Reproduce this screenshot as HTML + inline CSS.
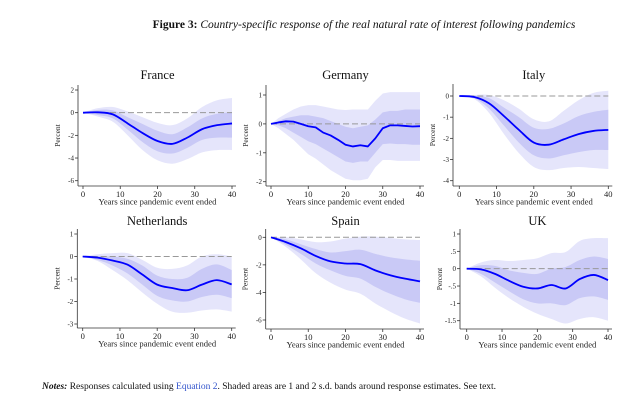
<!DOCTYPE html>
<html><head><meta charset="utf-8"><style>
body{margin:0;background:#fff;width:640px;height:407px;overflow:hidden;font-family:"Liberation Serif",serif}
svg{position:absolute;left:0;top:0}
</style></head><body>
<svg id="fig" width="640" height="407">
<text x="364" y="28" font-size="11.5" text-anchor="middle" fill="#111"><tspan font-weight="bold">Figure 3:</tspan><tspan font-style="italic"> Country-specific response of the real natural rate of interest following pandemics</tspan></text>
<text x="42" y="389" font-size="9.5" fill="#111"><tspan font-weight="bold" font-style="italic">Notes:</tspan> Responses calculated using <tspan fill="#3355cc">Equation 2</tspan>. Shaded areas are 1 and 2 s.d. bands around response estimates. See text.</text>
</svg>
<script>
const yearsS4=[0,4,8,12,16,20,24,28,32,36,40];
const yearsS2=[0,2,4,6,8,10,12,14,16,18,20,22,24,26,28,30,32,34,36,38,40];
const xTicks=[0,10,20,30,40];
const panelNames=["France","Germany","Italy","Netherlands","Spain","UK"];
const franceMean=[0,0.03,-0.15,-0.95,-1.8,-2.5,-2.75,-2.2,-1.45,-1.1,-0.95];
const franceInHi=[0,0.25,0.2,-0.4,-1.0,-1.6,-1.9,-1.3,-0.5,-0.1,0.05];
const franceInLo=[0,-0.2,-0.5,-1.5,-2.6,-3.4,-3.6,-3.1,-2.4,-2.2,-2.2];
const franceOutHi=[0,0.4,0.5,0.1,-0.4,-0.9,-1.1,-0.5,0.5,1.1,1.3];
const franceOutLo=[0,-0.35,-0.8,-2.0,-3.3,-4.2,-4.5,-4.1,-3.5,-3.3,-3.3];
const franceTicks=[2,0,-2,-4,-6];
const germanyMean=[0,0.05,0.09,0.08,0,-0.08,-0.12,-0.3,-0.4,-0.55,-0.72,-0.78,-0.74,-0.78,-0.5,-0.15,-0.05,-0.05,-0.07,-0.09,-0.08];
const germanyInHi=[0,0.1,0.2,0.25,0.3,0.3,0.25,0.2,0.1,0,-0.1,-0.15,-0.1,-0.05,0.15,0.4,0.45,0.45,0.5,0.5,0.5];
const germanyInLo=[0,-0.05,-0.15,-0.3,-0.45,-0.6,-0.7,-0.85,-1.0,-1.15,-1.3,-1.35,-1.3,-1.3,-1.0,-0.7,-0.68,-0.7,-0.7,-0.72,-0.72];
const germanyOutHi=[0,0.2,0.35,0.5,0.6,0.65,0.65,0.6,0.55,0.5,0.48,0.5,0.5,0.5,0.8,1.05,1.1,1.1,1.1,1.1,1.1];
const germanyOutLo=[0,-0.15,-0.35,-0.55,-0.8,-1.05,-1.2,-1.4,-1.6,-1.75,-1.9,-1.95,-1.95,-1.9,-1.5,-1.25,-1.25,-1.28,-1.28,-1.28,-1.28];
const germanyTicks=[1,0,-1,-2];
const italyMean=[0,-0.05,-0.35,-0.95,-1.6,-2.2,-2.3,-2.05,-1.8,-1.65,-1.6];
const italyInHi=[0,0.02,-0.1,-0.55,-1.0,-1.5,-1.55,-1.3,-0.95,-0.75,-0.65];
const italyInLo=[0,-0.1,-0.6,-1.4,-2.2,-2.8,-2.95,-2.8,-2.65,-2.55,-2.55];
const italyOutHi=[0,0.05,0.05,-0.2,-0.6,-1.1,-1.2,-0.7,-0.2,0.15,0.25];
const italyOutLo=[0,-0.15,-0.8,-1.8,-2.7,-3.35,-3.5,-3.4,-3.35,-3.4,-3.45];
const italyTicks=[0,-1,-2,-3,-4];
const nethMean=[0,-0.05,-0.18,-0.36,-0.8,-1.25,-1.4,-1.5,-1.25,-1.05,-1.24];
const nethInHi=[0,0.03,0,-0.1,-0.4,-0.85,-1.0,-0.95,-0.55,-0.35,-0.6];
const nethInLo=[0,-0.15,-0.4,-0.75,-1.25,-1.75,-1.95,-2.0,-1.8,-1.7,-1.85];
const nethOutHi=[0,0.1,0.15,0.15,-0.15,-0.5,-0.55,-0.4,0.0,0.1,0.0];
const nethOutLo=[0,-0.2,-0.6,-1.05,-1.6,-2.1,-2.45,-2.5,-2.4,-2.35,-2.45];
const nethTicks=[1,0,-1,-2,-3];
const spainMean=[0,-0.35,-0.8,-1.35,-1.75,-1.9,-1.95,-2.4,-2.75,-3.0,-3.2];
const spainInHi=[0,-0.15,-0.5,-0.85,-1.1,-1.0,-0.9,-1.2,-1.45,-1.6,-1.7];
const spainInLo=[0,-0.55,-1.2,-1.9,-2.4,-2.8,-3.0,-3.6,-4.1,-4.5,-4.75];
const spainOutHi=[0,0,-0.15,-0.35,-0.3,-0.1,0.05,0.05,-0.05,-0.15,-0.2];
const spainOutLo=[0,-0.7,-1.6,-2.6,-3.3,-3.8,-4.1,-4.8,-5.4,-5.9,-6.25];
const spainTicks=[0,-2,-4,-6];
const ukMean=[0,-0.02,-0.15,-0.35,-0.52,-0.57,-0.47,-0.57,-0.3,-0.18,-0.33];
const ukInHi=[0,0.1,0.08,-0.05,-0.12,-0.15,0.0,0.05,0.25,0.35,0.28];
const ukInLo=[0,-0.15,-0.4,-0.65,-0.88,-1.0,-1.0,-1.05,-0.85,-0.8,-0.9];
const ukOutHi=[0,0.18,0.25,0.22,0.25,0.3,0.45,0.48,0.8,0.88,0.88];
const ukOutLo=[0,-0.22,-0.55,-0.85,-1.1,-1.3,-1.45,-1.58,-1.45,-1.4,-1.5];
const ukTicks=[1,0.5,0,-0.5,-1,-1.5];
const ukTickLabels=["1",".5","0","-.5","-1","-1.5"];

const NS="http://www.w3.org/2000/svg";
const svg=document.getElementById('fig');
function mk(tag,attrs,parent){const e=document.createElementNS(NS,tag);for(const k in attrs)e.setAttribute(k,attrs[k]);(parent||svg).appendChild(e);return e;}
function smoothPath(pts,smooth){
  if(!smooth) return pts.map((p,i)=>(i?'L':'M')+p[0].toFixed(2)+','+p[1].toFixed(2)).join('');
  let d='M'+pts[0][0]+','+pts[0][1];
  for(let i=0;i<pts.length-1;i++){
    const p0=pts[Math.max(i-1,0)],p1=pts[i],p2=pts[i+1],p3=pts[Math.min(i+2,pts.length-1)];
    const c1=[p1[0]+(p2[0]-p0[0])/6,p1[1]+(p2[1]-p0[1])/6];
    const c2=[p2[0]-(p3[0]-p1[0])/6,p2[1]-(p3[1]-p1[1])/6];
    d+='C'+c1[0].toFixed(2)+','+c1[1].toFixed(2)+' '+c2[0].toFixed(2)+','+c2[1].toFixed(2)+' '+p2[0].toFixed(2)+','+p2[1].toFixed(2);
  }
  return d;
}
const panels=[
 {name:panelNames[0],slug:'france',years:yearsS4,smooth:true,m:franceMean,ih:franceInHi,il:franceInLo,oh:franceOutHi,ol:franceOutLo,ticks:franceTicks,x0:83,x40:232,ya:[2,90],yb:[-6,180.7],axisX:78,axisY:186,top:85,titleY:79},
 {name:panelNames[1],slug:'germany',years:yearsS2,smooth:false,m:germanyMean,ih:germanyInHi,il:germanyInLo,oh:germanyOutHi,ol:germanyOutLo,ticks:germanyTicks,x0:271,x40:420,ya:[1,95],yb:[-2,181.7],axisX:266,axisY:186,top:85,titleY:79},
 {name:panelNames[2],slug:'italy',years:yearsS4,smooth:true,m:italyMean,ih:italyInHi,il:italyInLo,oh:italyOutHi,ol:italyOutLo,ticks:italyTicks,x0:459.3,x40:608.3,ya:[0,96],yb:[-4,180.7],axisX:453,axisY:186,top:84,titleY:79},
 {name:panelNames[3],slug:'netherlands',years:yearsS4,smooth:true,m:nethMean,ih:nethInHi,il:nethInLo,oh:nethOutHi,ol:nethOutLo,ticks:nethTicks,x0:82.7,x40:231.7,ya:[1,234],yb:[-3,324],axisX:77.3,axisY:328,top:229,titleY:225},
 {name:panelNames[4],slug:'spain',years:yearsS4,smooth:true,m:spainMean,ih:spainInHi,il:spainInLo,oh:spainOutHi,ol:spainOutLo,ticks:spainTicks,x0:271,x40:420,ya:[0,237.3],yb:[-6,320],axisX:265.7,axisY:329,top:229,titleY:225},
 {name:panelNames[5],slug:'uk',years:yearsS4,smooth:true,m:ukMean,ih:ukInHi,il:ukInLo,oh:ukOutHi,ol:ukOutLo,ticks:ukTicks,labels:ukTickLabels,x0:466.7,x40:608,ya:[1,234],yb:[-1.5,320.7],axisX:460,axisY:329,top:229,titleY:225}
];
panels.forEach(p=>{
  const g=mk('g',{});
  
  
  const X=v=>p.x0+(p.x40-p.x0)*v/40;
  const Y=v=>p.ya[1]+(p.yb[1]-p.ya[1])*(v-p.ya[0])/(p.yb[0]-p.ya[0]);
  const band=(hi,lo,fill,nm)=>{
    const up=p.years.map((t,i)=>[X(t),Y(hi[i])]);
    const dn=p.years.map((t,i)=>[X(t),Y(lo[i])]).reverse();
    let d=smoothPath(up,p.smooth)+smoothPath(dn,p.smooth).replace('M','L')+'Z';
    const e=mk('path',{d:d,fill:fill,stroke:'none'},g);
    
    
  };
  band(p.oh,p.ol,'#e5e5fb',p.slug+'-2sd-band');
  band(p.ih,p.il,'#c9c9f6',p.slug+'-1sd-band');
  const zl=mk('line',{x1:X(0),x2:X(40),y1:Y(0),y2:Y(0),stroke:'#999',"stroke-width":1,"stroke-dasharray":"6,3"},g);
  
  
  const ln=mk('path',{d:smoothPath(p.years.map((t,i)=>[X(t),Y(p.m[i])]),p.smooth),fill:'none',stroke:'#0000ff',"stroke-width":1.8,"stroke-linejoin":"round"},g);
  
  
  mk('line',{x1:p.axisX,x2:p.axisX,y1:p.top,y2:p.axisY,stroke:'#333',"stroke-width":0.8},g);
  mk('line',{x1:p.axisX,x2:p.x40+4,y1:p.axisY,y2:p.axisY,stroke:'#333',"stroke-width":0.8},g);
  p.ticks.forEach((v,i)=>{
    mk('line',{x1:p.axisX-3,x2:p.axisX,y1:Y(v),y2:Y(v),stroke:'#333',"stroke-width":0.8},g);
    const t=mk('text',{x:p.axisX-4,y:Y(v)+2.5,"font-size":7,"text-anchor":"end",fill:'#222'},g);
    t.textContent=p.labels?p.labels[i]:String(v);
    
    
  });
  xTicks.forEach(v=>{
    mk('line',{x1:X(v),x2:X(v),y1:p.axisY,y2:p.axisY+3,stroke:'#333',"stroke-width":0.8},g);
    const t=mk('text',{x:X(v),y:p.axisY+11,"font-size":8.5,"text-anchor":"middle",fill:'#222'},g);
    t.textContent=String(v);
    
    
  });
  const xl=mk('text',{x:(p.x0+p.x40)/2,y:p.axisY+18.5,"font-size":8.6,"text-anchor":"middle",fill:'#222'},g);
  xl.textContent='Years since pandemic event ended';
  
  
  const cy=(p.top+p.axisY)/2;
  const yl=mk('text',{x:p.axisX-18,y:cy,"font-size":7.5,"text-anchor":"middle",fill:'#222',transform:`rotate(-90 ${p.axisX-18} ${cy})`},g);
  yl.textContent='Percent';
  
  
  const tt=mk('text',{x:(p.x0+p.x40)/2,y:p.titleY,"font-size":12.5,"text-anchor":"middle",fill:'#111'},g);
  tt.textContent=p.name;
  
  
});
</script>
</body></html>
